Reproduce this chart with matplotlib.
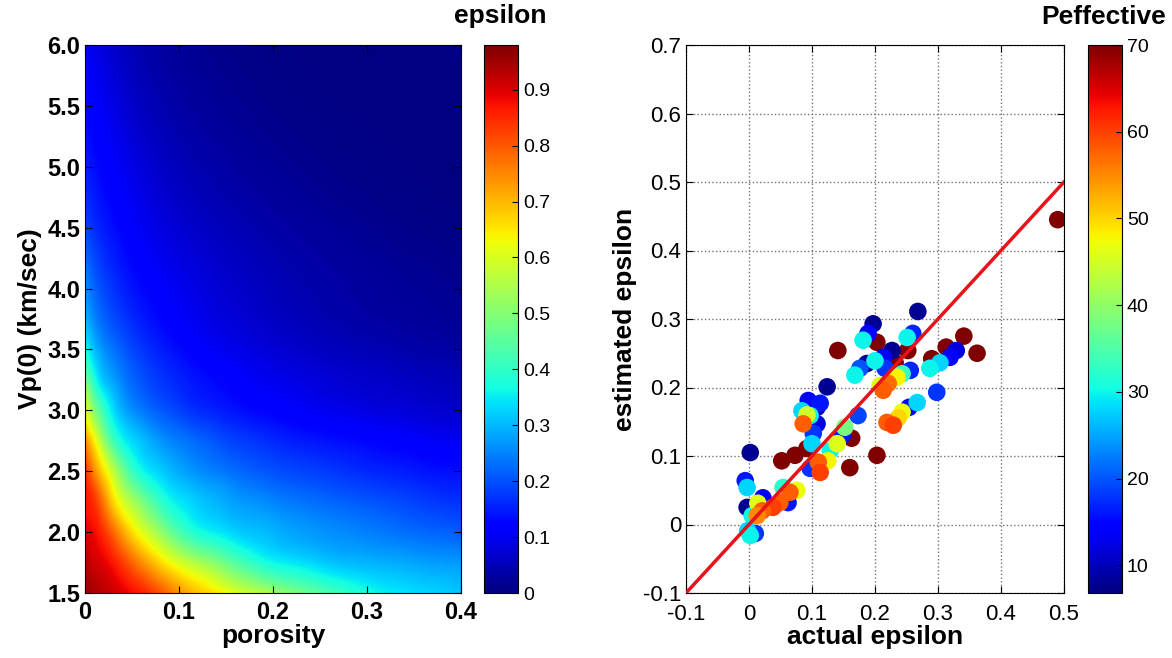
import numpy as np
import matplotlib
matplotlib.use("Agg")
import matplotlib.pyplot as plt
import matplotlib.tri as mtri

plt.rcParams['font.family'] = ['Liberation Sans', 'DejaVu Sans']

# ---------------- left panel: epsilon(porosity, Vp0) ----------------
porosity = [0, 0.0125, 0.025, 0.05, 0.075, 0.1, 0.125, 0.15, 0.175, 0.2, 0.25, 0.3, 0.35, 0.4]
vp0 = [1.5, 1.75, 2.0, 2.25, 2.5, 2.75, 3.0, 3.25, 3.5, 4.0, 4.5, 5.0, 5.5, 6.0]
eps_grid = [
    [0.96, 0.94, 0.92, 0.88, 0.82, 0.74, 0.68, 0.625, 0.575, 0.53, 0.445, 0.37, 0.335, 0.31],   # 1.5
    [0.93, 0.905, 0.88, 0.785, 0.685, 0.595, 0.53, 0.465, 0.405, 0.36, 0.32, 0.295, 0.28, 0.27],  # 1.75
    [0.90, 0.87, 0.81, 0.66, 0.54, 0.43, 0.365, 0.335, 0.31, 0.295, 0.265, 0.245, 0.225, 0.21],  # 2.0
    [0.87, 0.82, 0.71, 0.54, 0.42, 0.345, 0.31, 0.285, 0.265, 0.25, 0.225, 0.205, 0.185, 0.17],  # 2.25
    [0.84, 0.72, 0.61, 0.41, 0.33, 0.285, 0.255, 0.235, 0.215, 0.20, 0.18, 0.16, 0.145, 0.135],  # 2.5
    [0.74, 0.605, 0.46, 0.33, 0.275, 0.24, 0.215, 0.19, 0.175, 0.16, 0.14, 0.125, 0.11, 0.10],  # 2.75
    [0.61, 0.47, 0.365, 0.26, 0.215, 0.185, 0.16, 0.145, 0.13, 0.12, 0.10, 0.085, 0.075, 0.065],  # 3.0
    [0.49, 0.355, 0.29, 0.22, 0.18, 0.155, 0.135, 0.12, 0.105, 0.095, 0.078, 0.065, 0.056, 0.05],  # 3.25
    [0.37, 0.29, 0.245, 0.19, 0.155, 0.13, 0.11, 0.097, 0.085, 0.075, 0.058, 0.047, 0.037, 0.03],  # 3.5
    [0.26, 0.21, 0.18, 0.14, 0.115, 0.097, 0.083, 0.07, 0.06, 0.05, 0.037, 0.027, 0.02, 0.014],  # 4.0
    [0.19, 0.16, 0.14, 0.11, 0.088, 0.072, 0.06, 0.05, 0.042, 0.035, 0.024, 0.016, 0.01, 0.006],  # 4.5
    [0.15, 0.13, 0.115, 0.088, 0.067, 0.05, 0.04, 0.032, 0.025, 0.02, 0.012, 0.007, 0.003, 0.0],  # 5.0
    [0.125, 0.108, 0.093, 0.065, 0.045, 0.033, 0.025, 0.019, 0.014, 0.01, 0.005, 0.002, 0.0, 0.0],  # 5.5
    [0.105, 0.088, 0.075, 0.047, 0.032, 0.022, 0.016, 0.011, 0.008, 0.005, 0.002, 0.0, 0.0, 0.0],  # 6.0
]
eps_min, eps_max = 0.0, 0.98
eps_ticks = [0, 0.1, 0.2, 0.3, 0.4, 0.5, 0.6, 0.7, 0.8, 0.9]
eps_ticklabels = ['0', '0.1', '0.2', '0.3', '0.4', '0.5', '0.6', '0.7', '0.8', '0.9']
por_ticks = [0, 0.1, 0.2, 0.3, 0.4]
por_ticklabels = ['0', '0.1', '0.2', '0.3', '0.4']
vp_ticks = [1.5, 2.0, 2.5, 3.0, 3.5, 4.0, 4.5, 5.0, 5.5, 6.0]

# ---------------- right panel: actual vs estimated epsilon ----------------
actual_eps = [
    0.490, 0.362, 0.341, 0.313, 0.290, 0.252, 0.232, 0.203, 0.141, 0.163, 0.203, 0.160, 0.092, 0.073, 0.052,
    0.268, 0.197, 0.227, 0.187, 0.124, 0.108, 0.002, -0.003, 0.329,
    0.319, 0.298, 0.254, 0.256, 0.260, 0.189, 0.213, 0.216, 0.176, 0.173, 0.094, 0.113, 0.108, 0.102, 0.148,
    0.097, -0.006, 0.062, 0.022, 0.010,
    0.303, 0.287, 0.251, 0.267, 0.243, 0.200, 0.181, 0.168, 0.084, 0.097, 0.100, 0.129, -0.003, 0.054, 0.005,
    -0.002, 0.002, 0.152,
    0.243, 0.237, 0.235, 0.208, 0.140, 0.125, 0.076, 0.092, 0.014,
    0.219, 0.229, 0.221, 0.213, 0.086, 0.110, 0.113, 0.065, 0.049, 0.038, 0.021, 0.013,
]
estimated_eps = [
    0.445, 0.250, 0.275, 0.259, 0.242, 0.254, 0.236, 0.266, 0.254, 0.126, 0.101, 0.083, 0.111, 0.101, 0.093,
    0.311, 0.293, 0.254, 0.235, 0.201, 0.171, 0.105, 0.025, 0.254,
    0.244, 0.193, 0.171, 0.225, 0.279, 0.279, 0.244, 0.228, 0.228, 0.159, 0.181, 0.177, 0.147, 0.133, 0.130,
    0.082, 0.064, 0.032, 0.039, -0.013,
    0.236, 0.228, 0.273, 0.178, 0.220, 0.239, 0.269, 0.218, 0.166, 0.159, 0.118, 0.108, 0.054, 0.054, 0.013,
    -0.009, -0.016, 0.142,
    0.164, 0.156, 0.215, 0.203, 0.118, 0.093, 0.050, 0.160, 0.031,
    0.149, 0.145, 0.206, 0.196, 0.147, 0.091, 0.076, 0.047, 0.032, 0.025, 0.020, 0.013,
]
p_effective = [
    70, 70, 70, 70, 70, 70, 70, 70, 70, 70, 70, 70, 70, 70, 70,
    8, 8, 8, 8, 8, 9, 8, 8, 12,
    15, 18, 15, 17, 17, 15, 14, 18, 20, 19, 15, 16, 12, 18, 16,
    18, 16, 16, 14, 18,
    28, 30, 30, 28, 33, 30, 30, 30, 28, 30, 28, 30, 28, 32, 30,
    28, 30, 38,
    47, 50, 48, 46, 46, 48, 47, 45, 46,
    58, 60, 57, 58, 58, 58, 60, 58, 58, 60, 58, 55,
]
p_min, p_max = 6.8, 70
p_ticks = [10, 20, 30, 40, 50, 60, 70]
ax_ticks = [-0.1, 0, 0.1, 0.2, 0.3, 0.4, 0.5]
ax_ticklabels = ['-0.1', '0', '0.1', '0.2', '0.3', '0.4', '0.5']
ay_ticks = [-0.1, 0, 0.1, 0.2, 0.3, 0.4, 0.5, 0.6, 0.7]
ay_ticklabels = ['-0.1', '0', '0.1', '0.2', '0.3', '0.4', '0.5', '0.6', '0.7']
one_to_one = [-0.1, 0.5]

# ---------------- figure ----------------
W, H = 1172, 658
fig = plt.figure(figsize=(W / 100, H / 100), dpi=100)

def frac(x0, y0, x1, y1):
    return [x0 / W, 1 - y1 / H, (x1 - x0) / W, (y1 - y0) / H]

ax1 = fig.add_axes(frac(85, 45, 461, 593))
cax1 = fig.add_axes(frac(484, 45, 518, 593))
ax2 = fig.add_axes(frac(686, 45, 1064, 593))
cax2 = fig.add_axes(frac(1088, 45, 1122, 593))

lab_fs = 19

# left heatmap: smooth the read table with matplotlib's own triangular refiner
P, V = np.meshgrid(porosity, vp0)
triang = mtri.Triangulation(P.ravel() / 0.4, (V.ravel() - 1.5) / 4.5)
refiner = mtri.UniformTriRefiner(triang)
tri_ref, z_ref = refiner.refine_field(np.array(eps_grid).ravel(), subdiv=4)
tri_plot = mtri.Triangulation(tri_ref.x * 0.4, tri_ref.y * 4.5 + 1.5, tri_ref.triangles)
levels = np.linspace(eps_min, eps_max, 257)
cf = ax1.tricontourf(tri_plot, np.clip(z_ref, eps_min, eps_max), levels=levels, cmap='jet',
                     vmin=eps_min, vmax=eps_max, antialiased=False, extend='both')
ax1.set_xlim(0, 0.4)
ax1.set_ylim(1.5, 6.0)
ax1.set_xticks(por_ticks)
ax1.set_xticklabels(por_ticklabels)
ax1.set_yticks(vp_ticks)
ax1.set_yticklabels([f'{v:.1f}' for v in vp_ticks])
ax1.tick_params(direction='in', length=5, labelsize=17, top=True, right=True)
ax1.tick_params(axis='x', pad=6)
for lab in ax1.get_xticklabels() + ax1.get_yticklabels():
    lab.set_fontweight('bold')
ax1.set_xlabel('porosity', fontsize=lab_fs, fontweight='bold', labelpad=0)
ax1.set_ylabel('Vp(0) (km/sec)', fontsize=lab_fs, fontweight='bold', labelpad=4)

sm1 = plt.cm.ScalarMappable(cmap='jet', norm=plt.Normalize(eps_min, eps_max))
cb1 = fig.colorbar(sm1, cax=cax1, ticks=eps_ticks)
cb1.ax.set_yticklabels(eps_ticklabels)
cb1.ax.tick_params(direction='in', length=4, labelsize=14)
cb1.outline.set_linewidth(0.8)
fig.text(500 / W, 1 - 16 / H, 'epsilon', ha='center', va='center', fontsize=lab_fs, fontweight='bold')

# right scatter
ax2.set_axisbelow(True)
ax2.grid(True, linestyle=':', color='0.45', linewidth=1.0)
sc = ax2.scatter(actual_eps, estimated_eps, c=p_effective, cmap='jet', vmin=p_min, vmax=p_max,
                 s=160, edgecolors='none', zorder=3)
ax2.plot(one_to_one, one_to_one, color='#e8121a', linewidth=2.5, zorder=4)
ax2.set_xlim(-0.1, 0.5)
ax2.set_ylim(-0.1, 0.7)
ax2.set_xticks(ax_ticks)
ax2.set_xticklabels(ax_ticklabels)
ax2.set_yticks(ay_ticks)
ax2.set_yticklabels(ay_ticklabels)
ax2.tick_params(direction='in', length=5, labelsize=16, top=True, right=True)
ax2.tick_params(axis='x', pad=8)
ax2.set_xlabel('actual epsilon', fontsize=lab_fs, fontweight='bold', labelpad=0)
ax2.set_ylabel('estimated epsilon', fontsize=lab_fs, fontweight='bold', labelpad=4)

cb2 = fig.colorbar(sc, cax=cax2, ticks=p_ticks)
cb2.ax.tick_params(direction='in', length=4, labelsize=14)
cb2.outline.set_linewidth(0.8)
fig.text(1104 / W, 1 - 17 / H, 'Peffective', ha='center', va='center', fontsize=lab_fs, fontweight='bold')

fig.savefig('out.png', dpi=100)
